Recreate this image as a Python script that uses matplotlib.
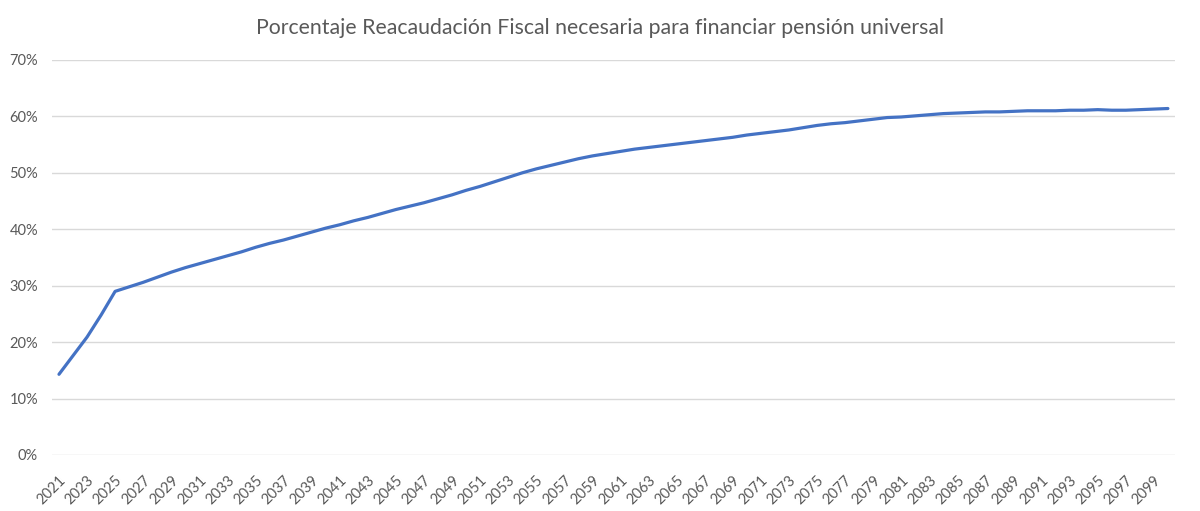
import matplotlib.pyplot as plt
import numpy as np
from matplotlib.ticker import PercentFormatter

years = list(range(2021, 2101))
pct = [14.3, 17.6, 20.9, 24.8, 29.0, 29.8, 30.6, 31.5, 32.4, 33.2,
       33.9, 34.6, 35.3, 36.0, 36.8, 37.5, 38.1, 38.8, 39.5, 40.2,
       40.8, 41.5, 42.1, 42.8, 43.5, 44.1, 44.7, 45.4, 46.1, 46.9,
       47.6, 48.4, 49.2, 50.0, 50.7, 51.3, 51.9, 52.5, 53.0, 53.4,
       53.8, 54.2, 54.5, 54.8, 55.1, 55.4, 55.7, 56.0, 56.3, 56.7,
       57.0, 57.3, 57.6, 58.0, 58.4, 58.7, 58.9, 59.2, 59.5, 59.8,
       59.9, 60.1, 60.3, 60.5, 60.6, 60.7, 60.8, 60.8, 60.9, 61.0,
       61.0, 61.0, 61.1, 61.1, 61.2, 61.1, 61.1, 61.2, 61.3, 61.4]

title = "Porcentaje Reacaudación Fiscal necesaria para financiar pensión universal"
grey = '#595959'

plt.rcParams['font.family'] = ['Lato', 'DejaVu Sans']

fig = plt.figure(figsize=(12, 5.11), dpi=100)
ax = fig.add_axes([0.0433, 0.1096, 0.9358, 0.773])

x = np.arange(len(years))
ax.plot(x, pct, color='#4472C4', lw=2.3, solid_capstyle='round', zorder=3)

ax.set_xlim(-0.5, len(years) - 0.5)
ax.set_ylim(0, 70)
ax.set_yticks(range(0, 71, 10))
ax.yaxis.set_major_formatter(PercentFormatter(decimals=0))
ax.set_xticks(x[::2])
ax.set_xticklabels([str(y) for y in years[::2]], rotation=45, ha='right',
                   rotation_mode='anchor')
ax.tick_params(length=0, labelsize=10.5, labelcolor=grey)
ax.tick_params(axis='y', pad=10)
ax.tick_params(axis='x', pad=13)
ax.grid(axis='y', color='#d9d9d9', lw=1)
ax.set_axisbelow(True)
for s in ax.spines.values():
    s.set_visible(False)

fig.suptitle(title, y=0.965, fontsize=15.3, color=grey)
fig.savefig('out.png', dpi=100)
